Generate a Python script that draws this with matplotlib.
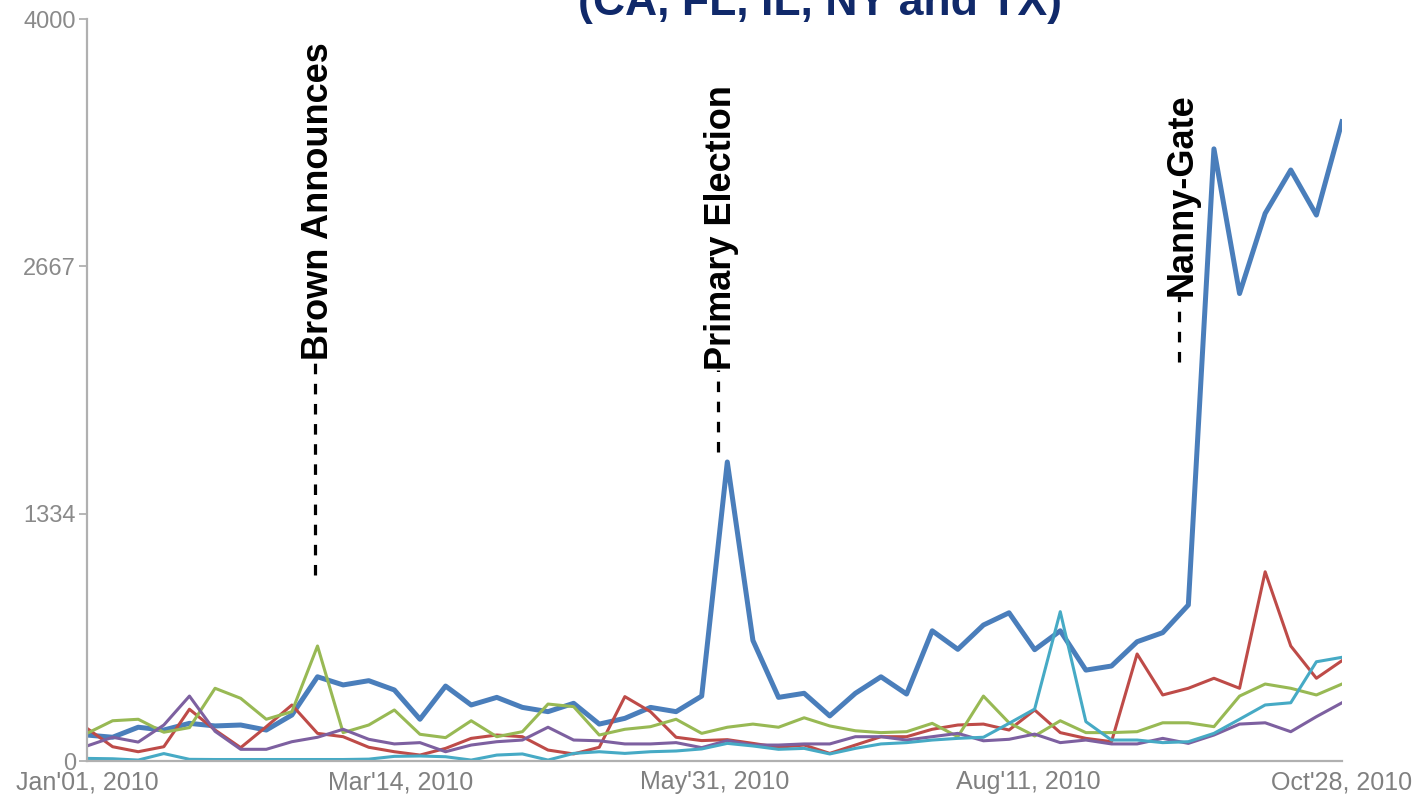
import matplotlib
matplotlib.use("Agg")
import matplotlib.pyplot as plt

# weekly-ish samples, Jan 01 -> Oct 28 2010 (50 points)
blue = [140, 128, 182, 167, 203, 189, 194, 167, 248, 454,
        410, 433, 383, 225, 404, 302, 343, 289, 266, 311,
        199, 230, 289, 266, 350, 1612, 650, 343, 365, 243,
        365, 454, 361, 702, 602, 733, 799, 600, 702, 490,
        512, 643, 692, 841, 3300, 2520, 2952, 3186, 2943, 3446]
red = [176, 77, 50, 77, 279, 167, 72, 185, 302, 149,
       131, 74, 50, 32, 68, 122, 140, 131, 59, 38,
       74, 347, 266, 128, 110, 115, 95, 74, 86, 41,
       86, 131, 131, 171, 194, 199, 167, 275, 153, 122,
       104, 577, 356, 392, 446, 392, 1020, 620, 446, 541]
green = [149, 217, 225, 155, 180, 392, 338, 225, 266, 620,
         153, 194, 275, 144, 126, 217, 131, 158, 307, 293,
         140, 171, 185, 225, 149, 182, 199, 182, 233, 189,
         163, 153, 158, 203, 131, 350, 206, 135, 217, 153,
         153, 158, 206, 206, 185, 350, 415, 392, 356, 415]
purple = [81, 128, 102, 194, 350, 160, 63, 63, 104, 128,
          171, 117, 92, 99, 50, 86, 104, 113, 182, 113,
          109, 92, 92, 99, 72, 110, 86, 86, 92, 92,
          131, 131, 113, 131, 149, 109, 117, 145, 99, 113,
          92, 92, 122, 95, 140, 199, 206, 158, 239, 314]
cyan = [14, 12, 5, 40, 9, 8, 8, 8, 8, 8,
        8, 10, 25, 27, 23, 5, 32, 38, 5, 41,
        50, 41, 50, 54, 65, 95, 81, 63, 68, 38,
        68, 92, 99, 113, 122, 128, 203, 280, 805, 212,
        113, 113, 99, 104, 149, 225, 302, 314, 535, 559]

xtick_labels = ["Jan'01, 2010", "Mar'14, 2010", "May'31, 2010", "Aug'11, 2010", "Oct'28, 2010"]
ytick_vals = [0, 1334, 2667, 4000]

# events: (label, x, line bottom, line top / text start)
events = [("Brown Announces", 8.9, 1003, 2161),
          ("Primary Election", 24.64, 1666, 2108),
          ("Nanny-Gate", 42.64, 2150, 2506)]

plt.rcParams['font.family'] = ['Liberation Sans', 'DejaVu Sans']

fig = plt.figure(figsize=(14.2, 7.95), dpi=100)
ax = fig.add_axes([87/1420, 34/795, (1342-87)/1420, (761-19)/795])

x = list(range(len(blue)))
ax.plot(x, blue, color='#4a7ebb', lw=3.6, solid_joinstyle='round')
ax.plot(x, red, color='#be4b48', lw=2.2)
ax.plot(x, green, color='#98b954', lw=2.2)
ax.plot(x, purple, color='#7d60a0', lw=2.2)
ax.plot(x, cyan, color='#46aac5', lw=2.2)

for label, ex, y0, y1 in events:
    ax.plot([ex, ex], [y0, y1], color='black', lw=2.3, dashes=(3.3, 3))
    ax.text(ex + 0.5, y1, label, rotation=90, rotation_mode='anchor',
            ha='left', va='baseline', fontsize=26, fontweight='bold', color='black')

ax.set_xlim(0, 49)
ax.set_ylim(0, 4000)
ax.set_xticks([0, 12.25, 24.5, 36.75, 49])
ax.set_xticklabels(xtick_labels)
ax.set_yticks(ytick_vals)
ax.set_yticklabels([str(v) for v in ytick_vals])
ax.tick_params(axis='x', length=0, pad=6.5, labelsize=18, labelcolor='#808080')
ax.tick_params(axis='y', length=6, width=1.2, color='#aaaaaa', pad=2, labelsize=17, labelcolor='#8a8a8a')
for s in ['top', 'right']:
    ax.spines[s].set_visible(False)
for s in ['left', 'bottom']:
    ax.spines[s].set_color('#b0b0b0')
    ax.spines[s].set_linewidth(1.6)

fig.text(820/1420, 1 - 15/795, "(CA, FL, IL, NY and TX)", ha='center', va='baseline',
         fontsize=32, fontweight='bold', color='#10296a')

fig.savefig("out.png", dpi=100)
